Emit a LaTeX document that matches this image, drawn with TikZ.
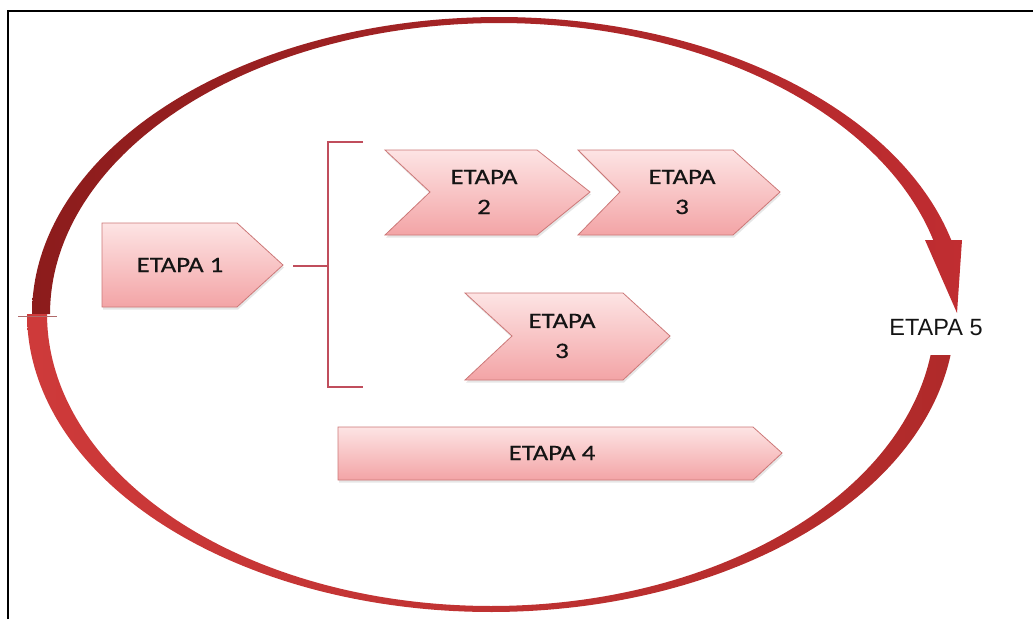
\documentclass[tikz,border=0pt]{standalone}
\usepackage{fontspec}
\usetikzlibrary{shadows}
\newfontfamily\stagefont[FakeStretch=1.22,FakeBold=0.5]{Carlito}
\newfontfamily\cyclefont{Liberation Sans}
\definecolor{boxtop}{HTML}{FDE4E4}
\definecolor{boxbot}{HTML}{F3A4A6}
\definecolor{boxline}{HTML}{CC7878}
\definecolor{bracketred}{HTML}{C04E5C}
\definecolor{textdark}{HTML}{141414}
\definecolor{ringdark}{HTML}{8C1C1C}
\definecolor{ringmid}{HTML}{C02D31}
\definecolor{ringlight}{HTML}{CE3A3A}
\definecolor{ringlow}{HTML}{B02A2A}
\definecolor{tickline}{HTML}{B06A6A}
\begin{document}
\begin{tikzpicture}[x=1pt,y=-1pt,
  stagebox/.style={draw=boxline, line width=0.8pt, line join=miter,
    top color=boxtop, bottom color=boxbot,
    drop shadow={shadow xshift=1pt, shadow yshift=-2.5pt, opacity=0.2}},
  stagetext/.style={font=\stagefont\fontsize{22}{30}\selectfont,
    text=textdark, align=center, inner sep=0pt},
  bracketline/.style={draw=bracketred, line width=1.3pt}]
\useasboundingbox (0,0) rectangle (1033,619);

% frame
\draw[line width=2pt] (8,619) -- (8,11) -- (1033,11);

% upper half of the cycle, ending in the arrow head
\path[left color=ringdark, right color=ringmid]
  plot[domain=180:345.57, samples=150] ({499+467*cos(\x)}, {314+297*sin(\x)})
  -- (962,240) -- (957,313) -- (925,240)
  -- plot[domain=345.27:180, samples=150] ({499+449*cos(\x)}, {314+291*sin(\x)})
  -- cycle;

% lower half of the cycle
\path[left color=ringlight, right color=ringlow]
  plot[domain=7.91:180, samples=150] ({491+464*cos(\x)}, {314+298*sin(\x)})
  -- plot[domain=180:8.07, samples=150] ({491+444*cos(\x)}, {314+292*sin(\x)})
  -- cycle;

% joint mark on the left
\draw[tickline, line width=1pt] (18,316) -- (57,316);

% stage shapes
\path[stagebox] (102,223) -- (237,223) -- (283,265) -- (237,307) -- (102,307) -- cycle;
\path[stagebox] (385,150) -- (537,150) -- (590,192) -- (537,235) -- (385,235) -- (430,192) -- cycle;
\path[stagebox] (578,150) -- (733,150) -- (780,192) -- (733,235) -- (578,235) -- (620,192) -- cycle;
\path[stagebox] (465,293) -- (623,293) -- (670,336) -- (623,380) -- (465,380) -- (512,336) -- cycle;
\path[stagebox] (338,427) -- (753,427) -- (782,453) -- (753,480) -- (338,480) -- cycle;

% stage labels
\node[stagetext] (e1)  at (180,265) {ETAPA 1};
\node[stagetext] (e2)  at (484,192) {ETAPA\\2};
\node[stagetext] (e3a) at (682,192) {ETAPA\\3};
\node[stagetext] (e3b) at (562,336) {ETAPA\\3};
\node[stagetext] (e4)  at (552,453) {ETAPA 4};
\node[font=\cyclefont\fontsize{23.5}{28}\selectfont, text=textdark, inner sep=0pt]
  (e5) at (936,328) {ETAPA 5};

% bracket joining stage 1 to the parallel stages
\coordinate (e1out) at (293,266);
\coordinate (bmid) at (328,266);
\coordinate (btop) at (328,142);
\coordinate (bbot) at (328,387);
\draw[bracketline] (e1out) -- (bmid);
\draw[bracketline] ([xshift=35]btop) -- (btop) -- (bbot) -- ([xshift=35]bbot);
\end{tikzpicture}
\end{document}
